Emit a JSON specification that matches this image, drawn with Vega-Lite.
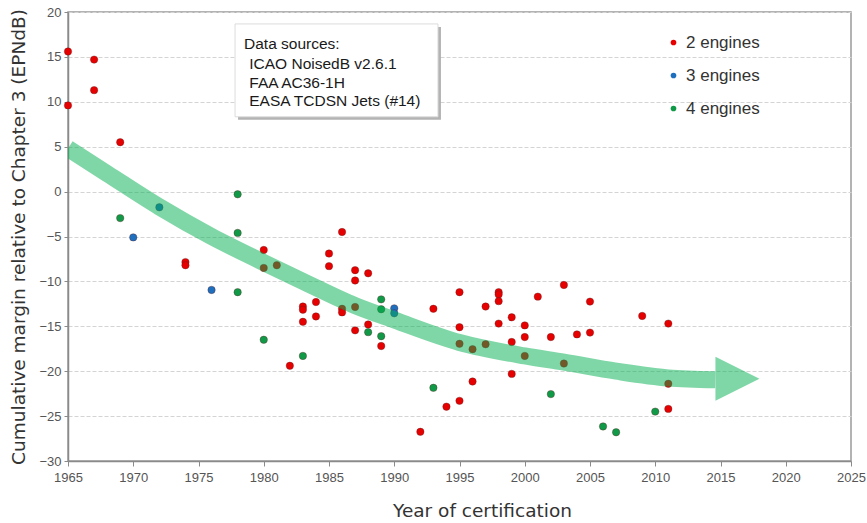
{
  "$schema": "https://vega.github.io/schema/vega-lite/v6.json",
  "width": 783,
  "height": 449,
  "autosize": {"type": "none"},
  "padding": {"left": 68, "top": 12, "right": 16, "bottom": 62},
  "background": "white",
  "config": {
    "view": {"stroke": "#9a9a9a", "strokeWidth": 1.5},
    "axis": {
      "labelFont": "Liberation Sans",
      "labelFontSize": 13,
      "labelColor": "#555555",
      "titleFont": "DejaVu Sans",
      "titleFontSize": 18.5,
      "titleFontWeight": "normal",
      "titleColor": "#333333",
      "domainColor": "#8a8a8a",
      "domainWidth": 1.5,
      "tickColor": "#8a8a8a",
      "tickSize": 5
    }
  },
  "datasets": {
    "points": [
      {"year": 1965, "margin": 15.6, "engines": "2 engines"},
      {"year": 1965, "margin": 9.6, "engines": "2 engines"},
      {"year": 1967, "margin": 14.7, "engines": "2 engines"},
      {"year": 1967, "margin": 11.3, "engines": "2 engines"},
      {"year": 1969, "margin": 5.5, "engines": "2 engines"},
      {"year": 1974, "margin": -7.85, "engines": "2 engines"},
      {"year": 1974, "margin": -8.2, "engines": "2 engines"},
      {"year": 1980, "margin": -6.5, "engines": "2 engines"},
      {"year": 1980, "margin": -8.5, "engines": "2 engines"},
      {"year": 1981, "margin": -8.2, "engines": "2 engines"},
      {"year": 1982, "margin": -19.4, "engines": "2 engines"},
      {"year": 1983, "margin": -12.8, "engines": "2 engines"},
      {"year": 1983, "margin": -13.15, "engines": "2 engines"},
      {"year": 1983, "margin": -14.5, "engines": "2 engines"},
      {"year": 1984, "margin": -12.3, "engines": "2 engines"},
      {"year": 1984, "margin": -13.9, "engines": "2 engines"},
      {"year": 1985, "margin": -6.9, "engines": "2 engines"},
      {"year": 1985, "margin": -8.3, "engines": "2 engines"},
      {"year": 1986, "margin": -4.5, "engines": "2 engines"},
      {"year": 1986, "margin": -13.05, "engines": "2 engines"},
      {"year": 1986, "margin": -13.45, "engines": "2 engines"},
      {"year": 1987, "margin": -8.75, "engines": "2 engines"},
      {"year": 1987, "margin": -9.9, "engines": "2 engines"},
      {"year": 1987, "margin": -12.85, "engines": "2 engines"},
      {"year": 1987, "margin": -15.45, "engines": "2 engines"},
      {"year": 1988, "margin": -9.1, "engines": "2 engines"},
      {"year": 1988, "margin": -14.8, "engines": "2 engines"},
      {"year": 1989, "margin": -17.2, "engines": "2 engines"},
      {"year": 1992, "margin": -26.75, "engines": "2 engines"},
      {"year": 1993, "margin": -13.05, "engines": "2 engines"},
      {"year": 1994, "margin": -23.95, "engines": "2 engines"},
      {"year": 1995, "margin": -11.2, "engines": "2 engines"},
      {"year": 1995, "margin": -15.1, "engines": "2 engines"},
      {"year": 1995, "margin": -16.95, "engines": "2 engines"},
      {"year": 1995, "margin": -23.3, "engines": "2 engines"},
      {"year": 1996, "margin": -17.55, "engines": "2 engines"},
      {"year": 1996, "margin": -21.15, "engines": "2 engines"},
      {"year": 1997, "margin": -12.8, "engines": "2 engines"},
      {"year": 1997, "margin": -17.0, "engines": "2 engines"},
      {"year": 1998, "margin": -11.2, "engines": "2 engines"},
      {"year": 1998, "margin": -11.45, "engines": "2 engines"},
      {"year": 1998, "margin": -12.2, "engines": "2 engines"},
      {"year": 1998, "margin": -14.7, "engines": "2 engines"},
      {"year": 1999, "margin": -14.0, "engines": "2 engines"},
      {"year": 1999, "margin": -16.75, "engines": "2 engines"},
      {"year": 1999, "margin": -20.3, "engines": "2 engines"},
      {"year": 2000, "margin": -14.9, "engines": "2 engines"},
      {"year": 2000, "margin": -16.2, "engines": "2 engines"},
      {"year": 2000, "margin": -18.3, "engines": "2 engines"},
      {"year": 2001, "margin": -11.7, "engines": "2 engines"},
      {"year": 2002, "margin": -16.2, "engines": "2 engines"},
      {"year": 2003, "margin": -10.4, "engines": "2 engines"},
      {"year": 2003, "margin": -19.15, "engines": "2 engines"},
      {"year": 2004, "margin": -15.9, "engines": "2 engines"},
      {"year": 2005, "margin": -12.25, "engines": "2 engines"},
      {"year": 2005, "margin": -15.7, "engines": "2 engines"},
      {"year": 2009, "margin": -13.85, "engines": "2 engines"},
      {"year": 2011, "margin": -14.7, "engines": "2 engines"},
      {"year": 2011, "margin": -21.4, "engines": "2 engines"},
      {"year": 2011, "margin": -24.2, "engines": "2 engines"},
      {"year": 1970, "margin": -5.1, "engines": "3 engines"},
      {"year": 1972, "margin": -1.75, "engines": "3 engines"},
      {"year": 1976, "margin": -10.95, "engines": "3 engines"},
      {"year": 1990, "margin": -13.0, "engines": "3 engines"},
      {"year": 1990, "margin": -13.55, "engines": "3 engines"},
      {"year": 1969, "margin": -2.95, "engines": "4 engines"},
      {"year": 1978, "margin": -0.3, "engines": "4 engines"},
      {"year": 1978, "margin": -4.6, "engines": "4 engines"},
      {"year": 1978, "margin": -11.2, "engines": "4 engines"},
      {"year": 1980, "margin": -16.5, "engines": "4 engines"},
      {"year": 1983, "margin": -18.3, "engines": "4 engines"},
      {"year": 1988, "margin": -15.65, "engines": "4 engines"},
      {"year": 1989, "margin": -12.0, "engines": "4 engines"},
      {"year": 1989, "margin": -13.1, "engines": "4 engines"},
      {"year": 1989, "margin": -16.1, "engines": "4 engines"},
      {"year": 1993, "margin": -21.85, "engines": "4 engines"},
      {"year": 2002, "margin": -22.55, "engines": "4 engines"},
      {"year": 2006, "margin": -26.15, "engines": "4 engines"},
      {"year": 2007, "margin": -26.8, "engines": "4 engines"},
      {"year": 2010, "margin": -24.5, "engines": "4 engines"}
    ],
    "trend": [
      {"year": 1965, "margin": 4.8},
      {"year": 1968, "margin": 2.0},
      {"year": 1972, "margin": -1.7},
      {"year": 1976, "margin": -5.0},
      {"year": 1980, "margin": -7.9},
      {"year": 1983, "margin": -10.0},
      {"year": 1987, "margin": -12.7},
      {"year": 1990, "margin": -14.3},
      {"year": 1995, "margin": -16.8},
      {"year": 2000, "margin": -18.3},
      {"year": 2003, "margin": -19.0},
      {"year": 2007, "margin": -20.0},
      {"year": 2011, "margin": -20.75},
      {"year": 2014.6, "margin": -20.95}
    ],
    "head": [
      {"year": 2016.3, "margin": -20.85}
    ],
    "box": [
      {"x1": 1977.8, "x2": 1993.35, "y1": 18.67, "y2": 8.33}
    ],
    "shadow": [
      {"x1": 1978.03, "x2": 1993.58, "y1": 18.34, "y2": 8.0}
    ],
    "notes": [
      {"year": 1978.49, "margin": 15.86, "label": "Data sources:"},
      {"year": 1978.89, "margin": 13.63, "label": "ICAO NoisedB v2.6.1"},
      {"year": 1978.89, "margin": 11.52, "label": "FAA AC36-1H"},
      {"year": 1978.89, "margin": 9.56, "label": "EASA TCDSN Jets (#14)"}
    ]
  },
  "layer": [
    {
      "data": {"name": "points"},
      "mark": {"type": "point", "filled": true, "opacity": 1, "size": 55, "stroke": "#5a2020", "strokeWidth": 0.6, "strokeOpacity": 0.6},
      "encoding": {
        "x": {
          "field": "year", "type": "quantitative",
          "scale": {"domain": [1965, 2025], "nice": false, "zero": false},
          "axis": {
            "values": [1965, 1970, 1975, 1980, 1985, 1990, 1995, 2000, 2005, 2010, 2015, 2020, 2025],
            "format": "d", "grid": false, "labelPadding": 5, "labelFlush": false,
            "title": "Year of certification", "titlePadding": 17, "titleX": 414
          }
        },
        "y": {
          "field": "margin", "type": "quantitative",
          "scale": {"domain": [-30, 20], "nice": false, "zero": false},
          "axis": {
            "values": [-30, -25, -20, -15, -10, -5, 0, 5, 10, 15, 20],
            "grid": true, "gridColor": "#d4d4d4", "gridDash": [4, 2], "gridWidth": 1,
            "labelPadding": 3, "tickSize": 4,
            "title": "Cumulative margin relative to Chapter 3 (EPNdB)", "titlePadding": 10
          }
        },
        "color": {
          "field": "engines", "type": "nominal",
          "scale": {"domain": ["2 engines", "3 engines", "4 engines"], "range": ["#e60000", "#1f6fbf", "#109a48"]},
          "legend": {
            "title": null, "orient": "none", "legendX": 597, "legendY": 22,
            "labelFont": "Liberation Sans", "labelFontSize": 17, "labelColor": "#333333",
            "symbolSize": 32, "symbolStrokeWidth": 0, "labelOffset": 4, "rowPadding": 15, "padding": 0
          }
        }
      }
    },
    {
      "data": {"name": "trend"},
      "mark": {"type": "line", "color": "#00b050", "opacity": 0.5, "strokeWidth": 17, "strokeCap": "butt", "interpolate": "monotone", "clip": true},
      "encoding": {
        "x": {"field": "year", "type": "quantitative"},
        "y": {"field": "margin", "type": "quantitative"}
      }
    },
    {
      "data": {"name": "head"},
      "mark": {"type": "point", "filled": true, "shape": "M-1,-1L1,0L-1,1Z", "size": 1936, "color": "#00b050", "opacity": 0.5, "strokeWidth": 0},
      "encoding": {
        "x": {"field": "year", "type": "quantitative"},
        "y": {"field": "margin", "type": "quantitative"}
      }
    },
    {
      "data": {"name": "shadow"},
      "mark": {"type": "rect", "color": "#a0a0a0", "opacity": 0.8},
      "encoding": {
        "x": {"field": "x1", "type": "quantitative"},
        "x2": {"field": "x2"},
        "y": {"field": "y1", "type": "quantitative"},
        "y2": {"field": "y2"}
      }
    },
    {
      "data": {"name": "box"},
      "mark": {"type": "rect", "fill": "white", "stroke": "#dcdcdc", "strokeWidth": 1},
      "encoding": {
        "x": {"field": "x1", "type": "quantitative"},
        "x2": {"field": "x2"},
        "y": {"field": "y1", "type": "quantitative"},
        "y2": {"field": "y2"}
      }
    },
    {
      "data": {"name": "notes"},
      "mark": {"type": "text", "align": "left", "baseline": "alphabetic", "font": "Liberation Sans", "fontSize": 15.5, "color": "#1a1a1a"},
      "encoding": {
        "x": {"field": "year", "type": "quantitative"},
        "y": {"field": "margin", "type": "quantitative"},
        "text": {"field": "label"}
      }
    }
  ]
}
